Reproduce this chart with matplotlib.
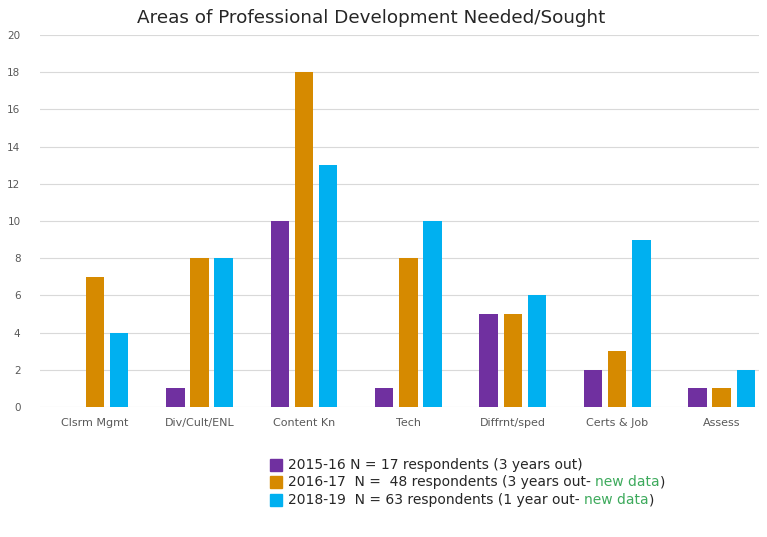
#!/usr/bin/python3

import numpy as np
import matplotlib
matplotlib.use("Agg")
import matplotlib.pyplot as plt
from matplotlib.patches import Rectangle

categories = ["Clsrm Mgmt", "Div/Cult/ENL", "Content Kn", "Tech",
              "Diffrnt/sped", "Certs & Job", "Assess"]
vals_1516 = [0, 1, 10, 1, 5, 2, 1]
vals_1617 = [7, 8, 18, 8, 5, 3, 1]
vals_1819 = [4, 8, 13, 10, 6, 9, 2]

yticks = [0, 2, 4, 6, 8, 10, 12, 14, 16, 18, 20]

title = "Areas of Professional Development Needed/Sought"

#legend text, as (black part, green part, tail)
leg_rows = [
    ("2015-16 N = 17 respondents (3 years out)", "", ""),
    ("2016-17  N =  48 respondents (3 years out- ", "new data", ")"),
    ("2018-19  N = 63 respondents (1 year out- ", "new data", ")"),
]

col_purple = "#7030A0"
col_orange = "#D68A00"
col_blue = "#00B0F0"
col_green = "#3DAA5C"
col_grey = "#595959"

#_____________________________________________________________________________
def main():

    fig = plt.figure(figsize=(7.67, 5.37), dpi=100)
    ax = fig.add_axes([0.052, 1 - 407 / 537.0, 0.938, 372 / 537.0])

    x = np.arange(len(categories))
    w = 0.177
    off = 0.23

    ax.bar(x - off, vals_1516, w, color=col_purple, zorder=3)
    ax.bar(x, vals_1617, w, color=col_orange, zorder=3)
    ax.bar(x + off, vals_1819, w, color=col_blue, zorder=3)

    ax.set_xlim(-0.526, 6.36)
    ax.set_ylim(0, 20)
    ax.set_yticks(yticks)
    ax.set_xticks(x)
    ax.set_xticklabels(categories)
    ax.tick_params(axis="both", length=0, labelsize=7.5, colors=col_grey)
    ax.tick_params(axis="x", labelsize=8, pad=8)
    ax.tick_params(axis="y", pad=14)

    for s in ax.spines.values():
        s.set_visible(False)
    ax.grid(True, axis="y", color="#D9D9D9", linewidth=0.8, zorder=0)

    fig.text(0.484, 0.966, title, ha="center", va="center", fontsize=13.2, color="#262626")

    #legend, drawn by hand for the green parts
    cols = [col_purple, col_orange, col_blue]
    ys = [465, 482, 500]
    fig.canvas.draw()
    rend = fig.canvas.get_renderer()
    for (t1, t2, t3), c, yp in zip(leg_rows, cols, ys):
        yf = 1 - yp / 537.0
        fig.patches.append(Rectangle((270 / 767.0, yf - 6 / 537.0), 12 / 767.0, 12 / 537.0,
                                     transform=fig.transFigure, color=c, figure=fig))
        xf = 288 / 767.0
        for part, pc in [(t1, "#262626"), (t2, col_green), (t3, "#262626")]:
            if part == "":
                continue
            txt = fig.text(xf, yf, part, ha="left", va="center", fontsize=10, color=pc)
            bb = txt.get_window_extent(renderer=rend)
            xf += bb.width / fig.bbox.width

    fig.savefig("out.png", dpi=100)
    plt.close()

#main

#_____________________________________________________________________________
if __name__ == "__main__":

    main()
